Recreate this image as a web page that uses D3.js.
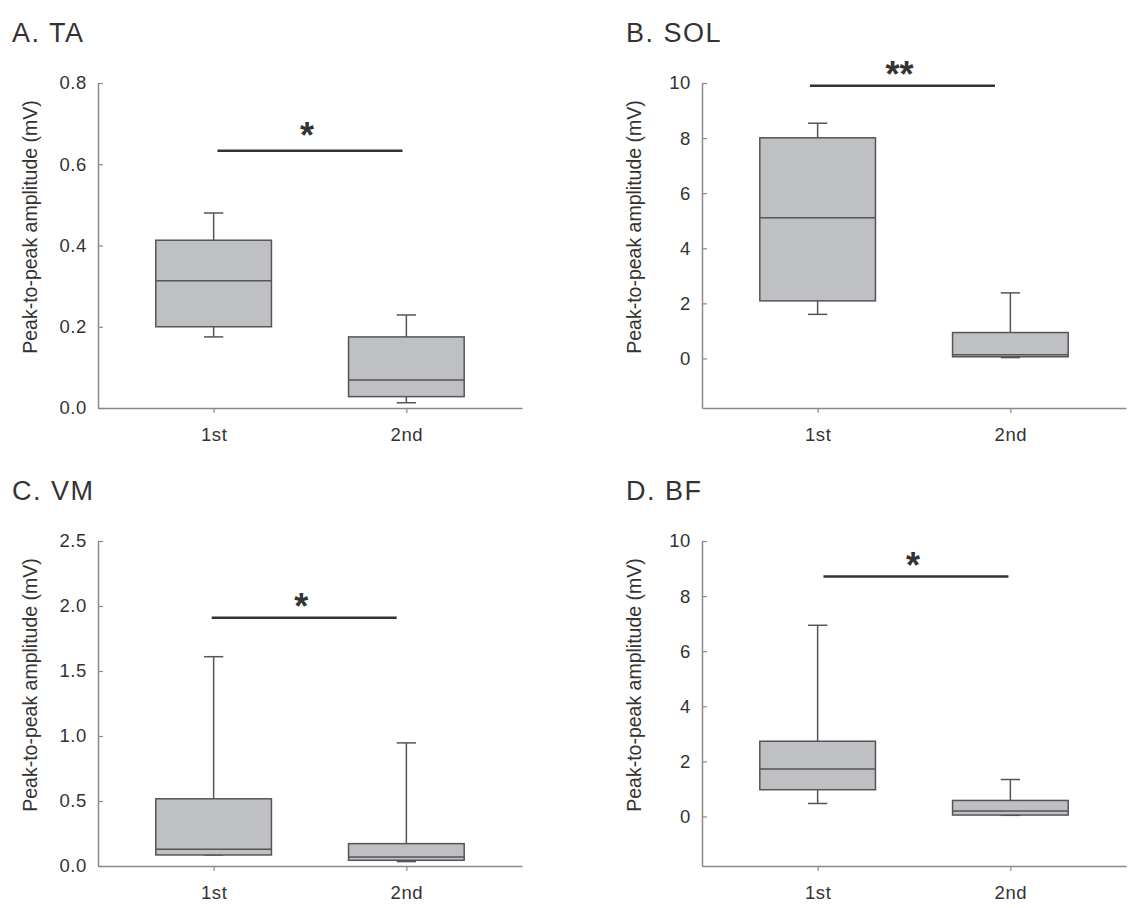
<!DOCTYPE html>
<html>
<head>
<meta charset="utf-8">
<script src="https://cdn.jsdelivr.net/npm/d3@7"></script>
<style>
  body { margin: 0; background: #fff; }
  text { font-family: "Liberation Sans", Arial, sans-serif; fill: #333; }
</style>
</head>
<body>
<div id="chart"></div>
<script>
// panel titles and groups
var panelTitles = ["A. TA", "B. SOL", "C. VM", "D. BF"];
var groups = ["1st", "2nd"];

// box stats: [lower whisker, q1, median, q3, upper whisker]
var taFirst = [0.175, 0.200, 0.313, 0.413, 0.480];
var taSecond = [0.013, 0.028, 0.069, 0.175, 0.229];
var solFirst = [1.60, 2.09, 5.11, 8.01, 8.54];
var solSecond = [0.03, 0.06, 0.13, 0.94, 2.38];
var vmFirst = [0.085, 0.085, 0.128, 0.517, 1.61];
var vmSecond = [0.034, 0.044, 0.069, 0.172, 0.947];
var bfFirst = [0.47, 0.97, 1.72, 2.73, 6.94];
var bfSecond = [0.04, 0.05, 0.20, 0.58, 1.34];

// y axis domains and ticks
var yDomains = [[0, 0.8], [-1.8, 10], [0, 2.5], [-1.8, 10]];
var yTicks = [[0, 0.2, 0.4, 0.6, 0.8], [0, 2, 4, 6, 8, 10], [0, 0.5, 1.0, 1.5, 2.0, 2.5], [0, 2, 4, 6, 8, 10]];
var yFormats = [".1f", "d", ".1f", "d"];

// significance bars: height, x-extent (group units), label
var sigY = [0.633, 9.9, 1.909, 8.71];
var sigX = [[1.02, 1.98], [0.96, 1.92], [0.99, 1.95], [1.03, 1.99]];
var sigLabels = ["*", "**", "*", "*"];

var boxData = [[taFirst, taSecond], [solFirst, solSecond], [vmFirst, vmSecond], [bfFirst, bfSecond]];

var svgWidth = 1131;
var svgHeight = 908;

var svg = d3.select("#chart")
    .append("svg")
    .attr("width", svgWidth)
    .attr("height", svgHeight);

svg.append("rect")
    .attr("width", svgWidth)
    .attr("height", svgHeight)
    .attr("fill", "#fff");

// plot area origin for each panel
var origins = [[98, 83], [702, 83], [98, 541], [702, 541]];
var titlePos = [[12, 42], [626, 42], [12, 500], [626, 500]];
var starLift = [5, 1, 1, 1];
var width = 424;
var height = 325;

var boxFill = "#bfc0c3";
var boxStroke = "#555";
var axisColor = "#8a8a8a";

panelTitles.forEach(function(title, i) {
    svg.append("text")
        .attr("x", titlePos[i][0])
        .attr("y", titlePos[i][1])
        .attr("font-size", "27px")
        .attr("letter-spacing", "1.5px")
        .text(title);

    var g = svg.append("g")
        .attr("transform", `translate(${origins[i][0]}, ${origins[i][1]})`);

    var x = d3.scaleLinear().domain([0.4, 2.6]).range([0, width]);
    var y = d3.scaleLinear().domain(yDomains[i]).range([height, 0]);

    // axes
    var leftAxis = d3.axisLeft(y)
        .tickValues(yTicks[i])
        .tickFormat(d3.format(yFormats[i]))
        .tickSizeInner(-5)
        .tickSizeOuter(0)
        .tickPadding(11);

    var bottomAxis = d3.axisBottom(x)
        .tickValues([1, 2])
        .tickFormat(function(d) { return groups[d - 1]; })
        .tickSizeInner(5)
        .tickSizeOuter(0)
        .tickPadding(9);

    var yAxis = g.append("g").call(leftAxis);
    var xAxis = g.append("g")
        .attr("transform", `translate(0, ${height})`)
        .call(bottomAxis);

    [yAxis, xAxis].forEach(function(ax) {
        ax.select(".domain").attr("stroke", axisColor).attr("stroke-width", 1.5);
        ax.selectAll(".tick line").attr("stroke", axisColor).attr("stroke-width", 1.2);
        ax.selectAll(".tick text")
            .attr("fill", "#333")
            .style("font-family", "'Liberation Sans', Arial, sans-serif")
            .style("font-size", "18.5px")
            .attr("letter-spacing", "0.6px");
    });
    xAxis.selectAll(".tick text").attr("dy", "1em");

    // y label
    g.append("text")
        .attr("transform", "rotate(-90)")
        .attr("x", -144)
        .attr("y", -68)
        .attr("dy", "0.35em")
        .attr("text-anchor", "middle")
        .attr("font-size", "19.5px")
        .text("Peak-to-peak amplitude (mV)");

    // boxes
    var half = 0.3;
    var cap = 0.05;
    boxData[i].forEach(function(s, k) {
        var cx = k + 1;
        var bg = g.append("g");
        // whiskers
        bg.append("line")
            .attr("x1", x(cx)).attr("x2", x(cx))
            .attr("y1", y(s[3])).attr("y2", y(s[4]))
            .attr("stroke", boxStroke).attr("stroke-width", 1.5);
        bg.append("line")
            .attr("x1", x(cx)).attr("x2", x(cx))
            .attr("y1", y(s[1])).attr("y2", y(s[0]))
            .attr("stroke", boxStroke).attr("stroke-width", 1.5);
        [s[0], s[4]].forEach(function(v) {
            bg.append("line")
                .attr("x1", x(cx - cap)).attr("x2", x(cx + cap))
                .attr("y1", y(v)).attr("y2", y(v))
                .attr("stroke", boxStroke).attr("stroke-width", 1.5);
        });
        bg.append("rect")
            .attr("x", x(cx - half))
            .attr("y", y(s[3]))
            .attr("width", x(cx + half) - x(cx - half))
            .attr("height", y(s[1]) - y(s[3]))
            .attr("fill", boxFill)
            .attr("stroke", boxStroke)
            .attr("stroke-width", 1.5);
        bg.append("line")
            .attr("x1", x(cx - half)).attr("x2", x(cx + half))
            .attr("y1", y(s[2])).attr("y2", y(s[2]))
            .attr("stroke", boxStroke).attr("stroke-width", 1.5);
    });

    // significance bar
    g.append("line")
        .attr("x1", x(sigX[i][0])).attr("x2", x(sigX[i][1]))
        .attr("y1", y(sigY[i])).attr("y2", y(sigY[i]))
        .attr("stroke", "#333").attr("stroke-width", 2.5);
    g.append("text")
        .attr("x", (x(sigX[i][0]) + x(sigX[i][1])) / 2 - 3)
        .attr("y", y(sigY[i]) + 2 - starLift[i])
        .attr("text-anchor", "middle")
        .attr("font-size", "36px")
        .attr("font-weight", "bold")
        .text(sigLabels[i]);
});
</script>
</body>
</html>
